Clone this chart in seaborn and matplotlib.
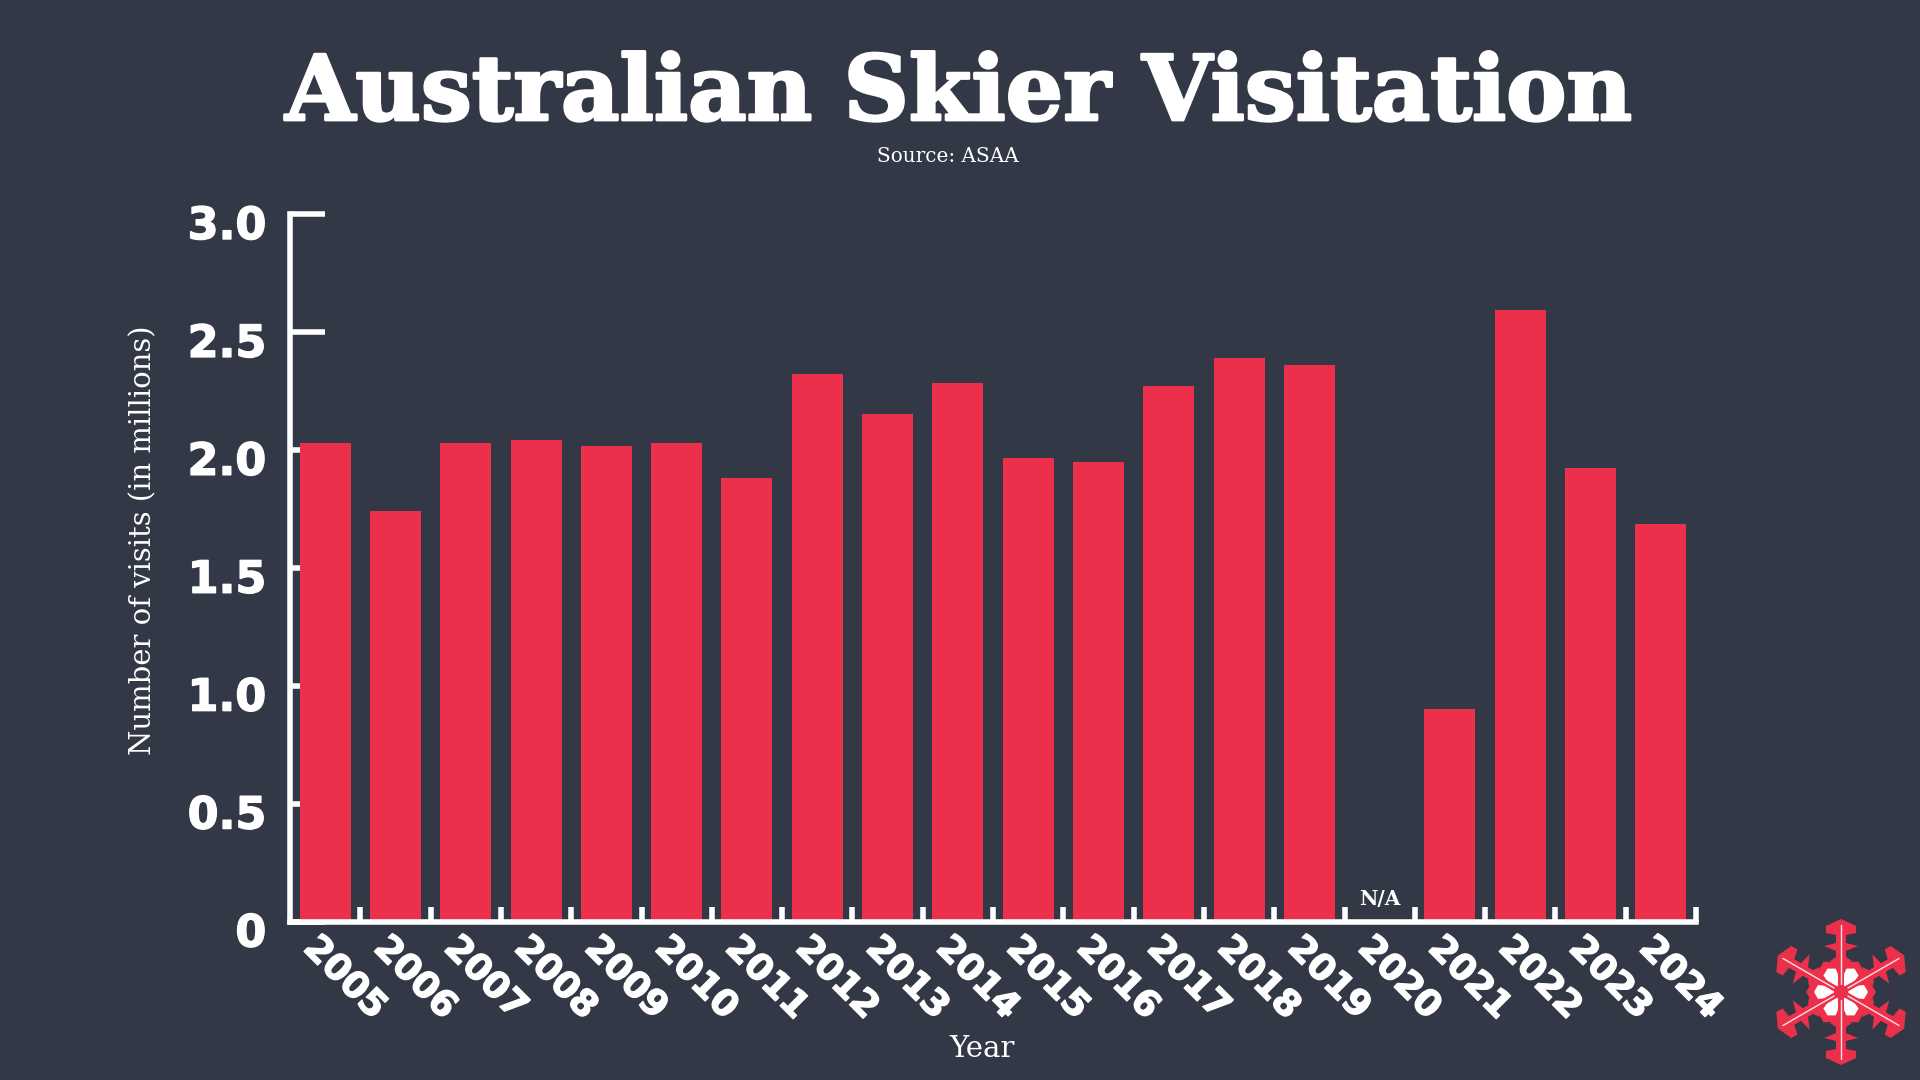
import numpy as np
import matplotlib
matplotlib.use('Agg')
import matplotlib.pyplot as plt
import matplotlib.patheffects as pe
import matplotlib.transforms as mtrans
from matplotlib.patches import Polygon, Circle
import pandas as pd
import seaborn as sns

years = [2005, 2006, 2007, 2008, 2009, 2010, 2011, 2012, 2013, 2014,
         2015, 2016, 2017, 2018, 2019, 2020, 2021, 2022, 2023, 2024]
visits = [2.03, 1.74, 2.03, 2.04, 2.015, 2.03, 1.88, 2.32, 2.15, 2.285,
          1.965, 1.95, 2.27, 2.39, 2.36, np.nan, 0.90, 2.595, 1.925, 1.685]
y_ticks = [0, 0.5, 1.0, 1.5, 2.0, 2.5, 3.0]
y_labels = ['0', '0.5', '1.0', '1.5', '2.0', '2.5', '3.0']

BG = '#323846'
RED = '#EC304C'
W, H = 1920, 1080

sns.set_theme(style='ticks', rc={'figure.facecolor': BG, 'axes.facecolor': BG})
serif = ['DejaVu Serif']
sans = ['DejaVu Sans']

df = pd.DataFrame({'year': years, 'visits': visits})

fig = plt.figure(figsize=(19.2, 10.8), dpi=100)
ax = fig.add_axes([290 / W, 1 - 921.5 / H, 1406 / W, 707.5 / H])

sns.barplot(data=df, x='year', y='visits', order=years, color=RED, saturation=1,
            width=0.725, linewidth=0, ax=ax)

ax.set_xlim(-0.5, 19.5)
ax.set_ylim(0, 3)
ax.set_axisbelow(True)
sns.despine(ax=ax)
for s in ['left', 'bottom']:
    ax.spines[s].set_color('white')
    ax.spines[s].set_linewidth(4)
    ax.spines[s].set_capstyle('projecting')

heavy = [pe.withStroke(linewidth=1, foreground='white')]

# y axis
ax.set_yticks(y_ticks)
ax.set_yticklabels(y_labels, fontsize=32, fontweight='bold', family=sans, color='white',
                   path_effects=heavy)
ax.tick_params(axis='y', direction='in', length=25, width=4, color='white', pad=17)
shift = mtrans.ScaledTranslation(0, -8 / 100, fig.dpi_scale_trans)
for lab in ax.get_yticklabels():
    lab.set_transform(lab.get_transform() + shift)

# x axis, ticks sit between the bars
ax.set_xticks(np.arange(len(years)))
ax.set_xticks(np.arange(len(years)) + 0.5, minor=True)
ax.set_xticklabels(years, fontsize=26, fontweight='bold', family=sans, color='white',
                   rotation=-45, ha='left', va='center', rotation_mode='anchor',
                   path_effects=heavy)
ax.tick_params(axis='x', which='major', length=0, pad=15)
ax.tick_params(axis='x', which='minor', direction='in', length=11, width=4, color='white')
shift = mtrans.ScaledTranslation(-16 / 100, 0, fig.dpi_scale_trans)
for lab in ax.get_xticklabels():
    lab.set_transform(lab.get_transform() + shift)

ax.set_xlabel('')
ax.set_ylabel('')

ax.text(15, 0.068, 'N/A', ha='center', va='baseline', color='white', fontsize=14.5,
        fontweight='bold', family=serif)

# titles
fig.text(959 / W, 1 - 120 / H, 'Australian Skier Visitation', ha='center', va='baseline',
         color='white', fontsize=65, fontweight='bold', family=serif,
         path_effects=[pe.withStroke(linewidth=2, foreground='white')])
fig.text(948 / W, 1 - 162 / H, 'Source: ASAA', ha='center', va='baseline', color='white',
         fontsize=14.4, family=serif)
fig.text(143 / W, 540 / H, 'Number of visits (in millions)', ha='center', va='center',
         rotation=90, color='white', fontsize=21, family=serif)
fig.text(982 / W, 1 - 1049 / H, 'Year', ha='center', va='center', color='white',
         fontsize=21, family=serif)

# snowflake logo, units are pixels around its centre
sf = fig.add_axes([(1841 - 80) / W, 1 - (992 + 80) / H, 160 / W, 160 / H])
sf.set_xlim(-80, 80)
sf.set_ylim(-80, 80)
sf.axis('off')

arm = [(-3, 0), (-3, 22), (-5, 28), (-11, 31), (-5, 35), (-5, 41), (-17, 46), (-5, 49),
       (-5, 57), (-15, 59), (-15, 66), (0, 73), (15, 66), (15, 59), (5, 57), (5, 49),
       (17, 46), (5, 41), (5, 35), (11, 31), (5, 28), (3, 22), (3, 0)]
kite = [(0, 0), (-13, 16), (-13, 27), (0, 35), (13, 27), (13, 16)]
petal = [(0, 6), (-6, 14), (-7, 23), (0, 27), (7, 23), (6, 14)]


def rotated(pts, deg):
    a = np.deg2rad(deg)
    m = np.array([[np.cos(a), -np.sin(a)], [np.sin(a), np.cos(a)]])
    return np.array(pts) @ m.T


for k in range(6):
    sf.add_patch(Polygon(rotated(kite, 30 + 60 * k), fc=RED, ec='none', zorder=1))
for k in range(6):
    sf.add_patch(Polygon(rotated(petal, 30 + 60 * k), fc='white', ec='none', zorder=2))
for k in range(6):
    sf.add_patch(Polygon(rotated(arm, 60 * k), fc=RED, ec='none', zorder=3))
    end = rotated([(0, 8), (0, 67)], 60 * k)
    sf.plot(end[:, 0], end[:, 1], color='#FBE3E7', lw=1, zorder=4)
sf.add_patch(Circle((0, 0), 7, fc=RED, ec='none', zorder=5))

fig.savefig('out.png', dpi=100, facecolor=BG)
